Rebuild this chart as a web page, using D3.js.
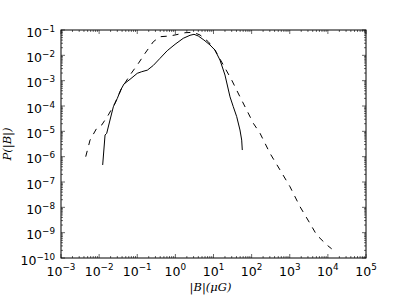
<!DOCTYPE html>
<html>
<head>
<meta charset="utf-8">
<script src="https://cdn.jsdelivr.net/npm/d3@7"></script>
<style>
  body { margin: 0; background: #fff; }
  svg { display: block; }
</style>
</head>
<body>
<div id="vis"></div>
<script>
const WIDTH = 407;
const HEIGHT = 305;
const SVG = d3.select("#vis").append("svg").attr("width", WIDTH).attr("height", HEIGHT);

// Datos ------------------------------------------------------------------------
const xDecadas = [-3, -2, -1, 0, 1, 2, 3, 4, 5];
const yDecadas = [-10, -9, -8, -7, -6, -5, -4, -3, -2, -1];

// solid line: |B| (muG), P(|B|)
const solidoB = [0.0124, 0.0143, 0.0158, 0.0193, 0.0236, 0.030, 0.0368, 0.0449, 0.0646, 0.100, 0.131, 0.184,
  0.264, 0.395, 0.61, 0.98, 1.61, 2.42, 3.08, 3.99, 5.6, 8.1, 10.9, 14.8, 20.0, 27.1, 33.0, 40.6, 49.5, 54.9, 56.9];
const solidoP = [4.7e-7, 7.2e-6, 8.3e-6, 2.8e-5, 9.3e-5, 2.0e-4, 4.3e-4, 7.4e-4, 1.13e-3, 1.95e-3, 2.26e-3, 2.6e-3,
  4.0e-3, 7.6e-3, 0.0152, 0.0272, 0.047, 0.0618, 0.0676, 0.058, 0.0403, 0.0256, 0.0162, 6.5e-3, 1.67e-3, 2.3e-4,
  9.4e-5, 3.8e-5, 1.13e-5, 4.5e-6, 1.83e-6];

// dashed line
const guionB = [0.00445, 0.00577, 0.00863, 0.0117, 0.0174, 0.026, 0.039, 0.0646, 0.107, 0.160, 0.264, 0.395, 0.72,
  1.19, 1.79, 2.95, 4.43, 7.3, 10.9, 18.1, 30, 49.5, 74.3, 111, 166, 303, 555, 1016, 1858, 3400, 5090, 9330, 12600];
const guionP = [1.0e-6, 4.5e-6, 1.32e-5, 1.78e-5, 4.4e-5, 1.28e-4, 5.0e-4, 1.67e-3, 4.8e-3, 0.012, 0.0345, 0.0544,
  0.058, 0.0676, 0.078, 0.081, 0.0635, 0.0345, 0.0162, 4.15e-3, 1.06e-3, 2.3e-4, 6.9e-5, 2.07e-5, 8.4e-6, 1.36e-6,
  3.0e-7, 6.5e-8, 1.06e-8, 2.3e-9, 8.1e-10, 3.3e-10, 2.3e-10];

// Escalas ----------------------------------------------------------------------
const izq = 61, der = 366, arriba = 30, abajo = 258;
const x = d3.scaleLog().domain([1e-3, 1e5]).range([izq, der]);
const y = d3.scaleLog().domain([1e-10, 1e-1]).range([abajo, arriba]);

// minor ticks 2..9 per decade
const menoresX = [];
xDecadas.slice(0, -1).forEach(d => { for (let k = 2; k < 10; k++) menoresX.push(k * Math.pow(10, d)); });
const menoresY = [];
yDecadas.slice(0, -1).forEach(d => { for (let k = 2; k < 10; k++) menoresY.push(k * Math.pow(10, d)); });

const ticks = SVG.append("g").attr("stroke", "#000").attr("stroke-width", 0.6);

function tickX(v, largo) {
  ticks.append("line").attr("x1", x(v)).attr("x2", x(v)).attr("y1", abajo).attr("y2", abajo - largo);
  ticks.append("line").attr("x1", x(v)).attr("x2", x(v)).attr("y1", arriba).attr("y2", arriba + largo);
}
function tickY(v, largo) {
  ticks.append("line").attr("y1", y(v)).attr("y2", y(v)).attr("x1", izq).attr("x2", izq + largo);
  ticks.append("line").attr("y1", y(v)).attr("y2", y(v)).attr("x1", der).attr("x2", der - largo);
}
xDecadas.forEach(d => tickX(Math.pow(10, d), 4));
menoresX.forEach(v => tickX(v, 2));
yDecadas.forEach(d => tickY(Math.pow(10, d), 4));
menoresY.forEach(v => tickY(v, 2));

// Lineas -----------------------------------------------------------------------
const linea = d3.line().x(d => x(d[0])).y(d => y(d[1]));

SVG.append("path")
  .attr("d", linea(solidoB.map((b, i) => [b, solidoP[i]])))
  .attr("fill", "none").attr("stroke", "#000").attr("stroke-width", 1);

SVG.append("path")
  .attr("d", linea(guionB.map((b, i) => [b, guionP[i]])))
  .attr("fill", "none").attr("stroke", "#000").attr("stroke-width", 1)
  .attr("stroke-dasharray", "6,6");

// Marco
SVG.append("rect")
  .attr("x", izq).attr("y", arriba).attr("width", der - izq).attr("height", abajo - arriba)
  .attr("fill", "none").attr("stroke", "#000").attr("stroke-width", 1);

// Etiquetas --------------------------------------------------------------------
const fuente = "DejaVu Sans, sans-serif";
const exponente = d => String(d).replace("-", "\u2212");

xDecadas.forEach(d => {
  const t = SVG.append("text")
    .attr("x", x(Math.pow(10, d))).attr("y", abajo + 17.5)
    .attr("text-anchor", "middle")
    .style("font-family", fuente).style("font-size", "12.5px");
  t.append("tspan").text("10");
  t.append("tspan").attr("dy", -5.2).style("font-size", "8.8px").text(exponente(d));
});

yDecadas.forEach(d => {
  const t = SVG.append("text")
    .attr("x", 55).attr("y", y(Math.pow(10, d)) + 6.8)
    .attr("text-anchor", "end")
    .style("font-family", fuente).style("font-size", "12.5px");
  t.append("tspan").text("10");
  t.append("tspan").attr("dy", -5.2).style("font-size", "8.8px").text(exponente(d));
});

const serif = "DejaVu Serif, serif";

SVG.append("text")
  .attr("x", (izq + der) / 2 - 3).attr("y", 291)
  .attr("text-anchor", "middle")
  .style("font-family", serif).style("font-size", "11.5px").style("font-style", "italic")
  .text("|B|(μG)");

SVG.append("text")
  .attr("transform", `translate(11, ${(arriba + abajo) / 2}) rotate(-90)`)
  .attr("text-anchor", "middle")
  .style("font-family", serif).style("font-size", "11.5px").style("font-style", "italic")
  .text("P(|B|)");
</script>
</body>
</html>
